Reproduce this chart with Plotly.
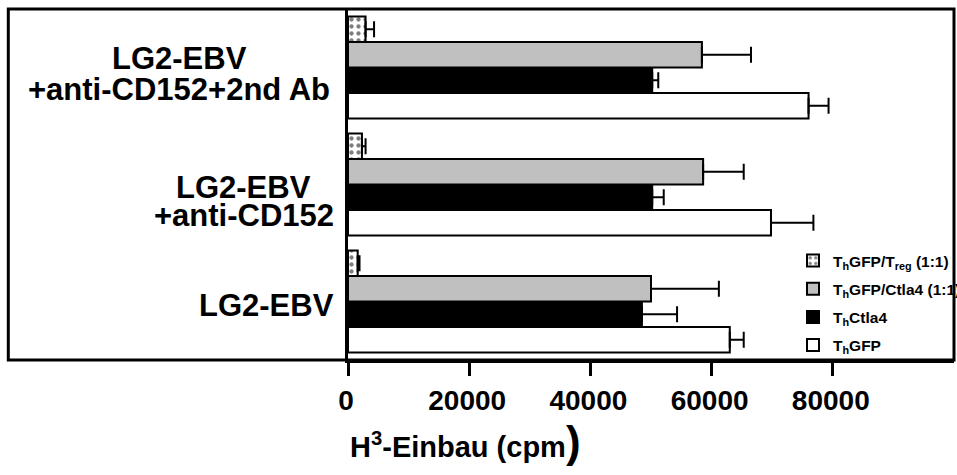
import plotly.graph_objects as go

# Stimulation conditions, bottom to top
conditions = ["LG2-EBV", "LG2-EBV +anti-CD152", "LG2-EBV +anti-CD152+2nd Ab"]
label_lines = [["LG2-EBV"], ["LG2-EBV", "+anti-CD152"], ["LG2-EBV", "+anti-CD152+2nd Ab"]]

# H3 incorporation (cpm), mean and upper error per condition
th_gfp = [63000, 69800, 76000]
th_gfp_err = [2300, 7000, 3300]
th_ctla4 = [48500, 50200, 50200]
th_ctla4_err = [5800, 1900, 1000]
th_gfp_ctla4 = [50000, 58600, 58400]
th_gfp_ctla4_err = [11200, 6700, 8100]
th_gfp_treg = [1600, 2300, 2900]
th_gfp_treg_err = [300, 600, 1400]

tick_values = [0, 20000, 40000, 60000, 80000]
tick_labels = ["0", "20000", "40000", "60000", "80000"]

FONT = "Liberation Sans, Arial, sans-serif"

# plot area in pixels
PL, PR, PT, PB = 348, 954, 9, 360
PW, PH = PR - PL, PB - PT

series = [
    ("T<sub>h</sub>GFP", th_gfp, th_gfp_err, "white", None),
    ("T<sub>h</sub>Ctla4", th_ctla4, th_ctla4_err, "black", None),
    ("T<sub>h</sub>GFP/Ctla4 (1:1)", th_gfp_ctla4, th_gfp_ctla4_err, "#c0c0c0", None),
    ("T<sub>h</sub>GFP/T<sub>reg</sub> (1:1)", th_gfp_treg, th_gfp_treg_err, "white",
     dict(shape=".", fgcolor="black", bgcolor="white", size=7, solidity=0.3)),
]

fig = go.Figure()
for i, (name, vals, errs, color, pattern) in enumerate(series):
    marker = dict(color=color, line=dict(color="black", width=2))
    if pattern:
        marker["pattern"] = pattern
    fig.add_trace(go.Bar(
        y=conditions, x=vals, orientation="h", name=name,
        legendgroup=f"g{len(series) - i}", legendrank=len(series) - i,
        marker=marker,
        error_x=dict(type="data", array=errs, arrayminus=[0] * len(errs),
                     symmetric=False, color="black", thickness=2, width=8),
    ))

# Condition labels: centred lines to the left of the axis
label_y_px = [[305], [187, 215], [59, 89]]
label_x_px = [266.5, 243.5, 179]
for lines, ys, xc in zip(label_lines, label_y_px, label_x_px):
    for text, ypx in zip(lines, ys):
        fig.add_annotation(
            text=text, xref="paper", yref="paper",
            x=(xc - PL) / PW, y=(PB - ypx) / PH,
            xanchor="center", yanchor="middle", showarrow=False,
            font=dict(family=FONT, size=31, color="black", weight="bold"),
        )

# Axis title
fig.add_annotation(
    text="H<sup>3</sup>-Einbau (cpm<span style='font-size:44px'>)</span>",
    xref="paper", yref="paper", x=0, y=(PB - 442) / PH,
    xanchor="left", yanchor="middle", showarrow=False,
    font=dict(family=FONT, size=29, color="black", weight="bold"),
)

# Outer frame around labels and plot
fig.add_shape(type="rect", xref="paper", yref="paper",
              x0=(8.3 - PL) / PW, x1=1.0, y0=0, y1=1,
              line=dict(color="black", width=3), layer="above")

fig.update_layout(
    width=957, height=475,
    margin=dict(l=PL, r=957 - PR, t=PT, b=475 - PB, autoexpand=False),
    paper_bgcolor="white", plot_bgcolor="white",
    barmode="group", bargap=0.13, bargroupgap=0,
    font=dict(family=FONT, color="black"),
    showlegend=True,
    legend=dict(
        x=(793 - PL) / PW, y=(PB - 244) / PH, xanchor="left", yanchor="top",
        traceorder="grouped", tracegroupgap=5, bgcolor="rgba(0,0,0,0)",
        font=dict(family=FONT, size=15.5, color="black", weight="bold"),
    ),
    xaxis=dict(
        range=[0, 100000], tickvals=tick_values, ticktext=tick_labels,
        showline=True, linecolor="black", linewidth=3,
        ticks="outside", ticklen=13, tickwidth=3, tickcolor="black",
        showgrid=False, zeroline=False, ticklabelshift=-2,
        tickfont=dict(family=FONT, size=28, color="black", weight="bold"),
    ),
    yaxis=dict(
        categoryorder="array", categoryarray=conditions,
        showticklabels=False, ticks="", showline=True, linecolor="black",
        linewidth=2.5, showgrid=False, zeroline=False,
    ),
)

fig.write_html("out.html")
